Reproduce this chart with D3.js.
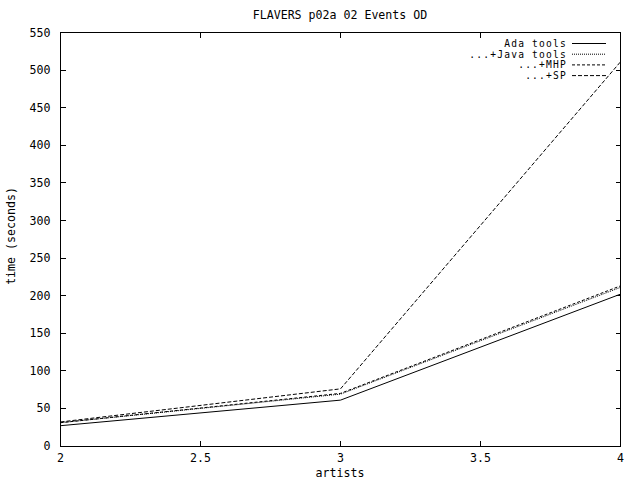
<!DOCTYPE html>
<html>
<head>
<meta charset="utf-8">
<script src="https://cdn.jsdelivr.net/npm/d3@7"></script>
<style>
  body { margin: 0; background: #fff; }
  text { font-family: "DejaVu Sans Mono", monospace; font-size: 11.6px; fill: #000; }
  text.key { font-size: 9.6px; letter-spacing: 1.2px; }
</style>
</head>
<body>
<div id="chart"></div>
<script>
// values
const artists = [2, 3, 4];
const adaTools = [27, 61, 202];
const javaTools = [31, 69, 211];
const plusMHP = [31, 70, 213];
const plusSP = [32, 76, 511];
const xTicks = [2, 2.5, 3, 3.5, 4];
const yTicks = [0, 50, 100, 150, 200, 250, 300, 350, 400, 450, 500, 550];
const seriesNames = ["Ada tools", "...+Java tools", "...+MHP", "...+SP"];

const width = 640, height = 480;
const margin = { top: 32.5, right: 19.5, bottom: 34, left: 60.5 };

const series = [
  { name: seriesNames[0], values: adaTools, dash: null },
  { name: seriesNames[1], values: javaTools, dash: "1,1" },
  { name: seriesNames[2], values: plusMHP, dash: "3,2" },
  { name: seriesNames[3], values: plusSP, dash: "4,2" }
];

let svg = d3
  .select("#chart")
  .append("svg")
  .attr("width", width)
  .attr("height", height);

let x = d3.scaleLinear().domain([2, 4]).range([margin.left, width - margin.right]);
let y = d3.scaleLinear().domain([0, 550]).range([height - margin.bottom, margin.top]);

// frame
svg.append("rect")
  .attr("x", x(2)).attr("y", y(550))
  .attr("width", x(4) - x(2)).attr("height", y(0) - y(550))
  .attr("fill", "none").attr("stroke", "#000").attr("shape-rendering", "crispEdges");

// ticks, mirrored like gnuplot
let tick = 5;
yTicks.forEach(v => {
  svg.append("line").attr("x1", x(2)).attr("x2", x(2) + tick)
    .attr("y1", y(v)).attr("y2", y(v)).attr("stroke", "#000").attr("shape-rendering", "crispEdges");
  svg.append("line").attr("x1", x(4)).attr("x2", x(4) - tick)
    .attr("y1", y(v)).attr("y2", y(v)).attr("stroke", "#000").attr("shape-rendering", "crispEdges");
  svg.append("text").attr("x", x(2) - 10).attr("y", y(v)).attr("dy", "0.35em")
    .attr("text-anchor", "end").text(v);
});
xTicks.forEach(v => {
  svg.append("line").attr("x1", x(v)).attr("x2", x(v))
    .attr("y1", y(0)).attr("y2", y(0) - tick).attr("stroke", "#000").attr("shape-rendering", "crispEdges");
  svg.append("line").attr("x1", x(v)).attr("x2", x(v))
    .attr("y1", y(550)).attr("y2", y(550) + tick).attr("stroke", "#000").attr("shape-rendering", "crispEdges");
  svg.append("text").attr("x", x(v)).attr("y", y(0) + 16)
    .attr("text-anchor", "middle").text(v);
});

// titles
svg.append("text").attr("x", 340).attr("y", 19).attr("text-anchor", "middle")
  .text("FLAVERS p02a 02 Events OD");
svg.append("text").attr("x", 340).attr("y", 477).attr("text-anchor", "middle")
  .text("artists");
svg.append("text").attr("transform", "translate(15,236) rotate(-90)")
  .attr("text-anchor", "middle").text("time (seconds)");

// lines
let line = d3.line()
  .x((d, i) => x(artists[i]))
  .y(d => y(d));

series.forEach(s => {
  svg.append("path")
    .attr("d", line(s.values))
    .attr("fill", "none")
    .attr("stroke", "#000")
    .attr("stroke-width", 1)
    .attr("stroke-dasharray", s.dash);
});

// legend
series.forEach((s, i) => {
  let ly = 43.5 + i * 10.7;
  svg.append("text").attr("class", "key").attr("x", 567).attr("y", ly).attr("dy", "0.35em")
    .attr("text-anchor", "end").text(s.name);
  svg.append("line").attr("x1", 572).attr("x2", 606)
    .attr("y1", ly).attr("y2", ly)
    .attr("stroke", "#000").attr("stroke-dasharray", s.dash);
});
</script>
</body>
</html>
